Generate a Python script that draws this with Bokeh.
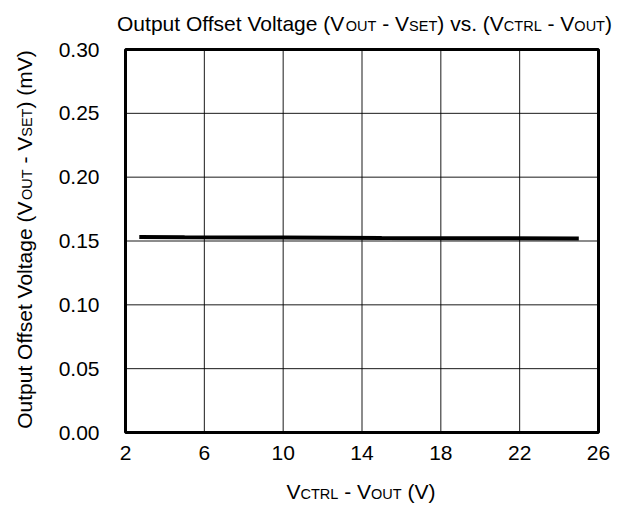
import math
from bokeh.plotting import figure
from bokeh.models import Range1d, FixedTicker, NumeralTickFormatter, Label
from bokeh.embed import file_html
from bokeh.resources import INLINE

# ---- data ----
x_vals = [2.7, 5.0, 10.0, 15.0, 20.0, 25.0]
y_vals = [0.1531, 0.1529, 0.1527, 0.1524, 0.1522, 0.1520]
x_ticks = [2, 6, 10, 14, 18, 22, 26]
y_ticks = [0.0, 0.05, 0.10, 0.15, 0.20, 0.25, 0.30]
title_parts = [("Output Offset Voltage (V", False), ("OUT", True), (" - V", False), ("SET", True),
               (") vs. (V", False), ("CTRL", True), (" - V", False), ("OUT", True), (")", False)]
xlabel_parts = [("V", False), ("CTRL", True), (" - V", False), ("OUT", True), (" (V)", False)]
ylabel_parts = [("Output Offset Voltage (V", False), ("OUT", True), (" - V", False), ("SET", True), (") (mV)", False)]

FONT = "Liberation Sans"
FS = 21
SFS = 14.5
NBSP = "\u00a0"

W, H = 619, 507
# pixel box of the plotting area inside the canvas
L, R, T, B = 125, 598, 49, 432
X0, X1 = x_ticks[0], x_ticks[-1]
Y0, Y1 = y_ticks[0], y_ticks[-1]
sx = (X1 - X0) / (R - L)
sy = (Y1 - Y0) / (B - T)

p = figure(width=W, height=H, output_backend="svg", toolbar_location=None,
           x_range=Range1d(X0 - L * sx, X1 + (W - R) * sx),
           y_range=Range1d(Y0 - (H - B) * sy, Y1 + T * sy),
           min_border=0)
p.title.visible = False
p.background_fill_color = "white"
p.border_fill_color = "white"
p.outline_line_color = None
p.grid.visible = False

# grid lines and frame drawn through the data scales
p.segment(x0=x_ticks, y0=[Y0] * len(x_ticks), x1=x_ticks, y1=[Y1] * len(x_ticks),
          line_color="black", line_width=1, line_alpha=0.9)
p.segment(x0=[X0] * len(y_ticks), y0=y_ticks, x1=[X1] * len(y_ticks), y1=y_ticks,
          line_color="black", line_width=1, line_alpha=0.9)
p.quad(left=[X0], right=[X1], bottom=[Y0], top=[Y1], fill_color=None,
       line_color="black", line_width=3)

p.line(x_vals, y_vals, line_color="black", line_width=4)

# axes placed at the plotting box edges
xa, ya = p.xaxis[0], p.yaxis[0]
xa.fixed_location = Y0
ya.fixed_location = X0
xa.bounds = (X0, X1)
ya.bounds = (Y0, Y1)
for ax in (xa, ya):
    ax.axis_line_color = None
    ax.major_tick_line_color = None
    ax.minor_tick_line_color = None
    ax.major_label_text_font = FONT
    ax.major_label_text_font_size = f"{FS}px"
    ax.major_label_text_color = "black"
xa.ticker = FixedTicker(ticks=x_ticks)
ya.ticker = FixedTicker(ticks=y_ticks)
ya.formatter = NumeralTickFormatter(format="0.00")
xa.major_label_standoff = 7
ya.major_label_standoff = 20

# ---- rich text (subscripts) in canvas pixels ----
WID = {'O': 778, 'u': 556, 't': 278, 'p': 556, ' ': 278, 'f': 278, 's': 500, 'e': 556, 'V': 667,
       'o': 556, 'l': 222, 'a': 556, 'g': 556, '(': 333, ')': 333, '-': 333, 'v': 500, '.': 278,
       'm': 833, 'C': 722, 'T': 611, 'R': 722, 'L': 556, 'U': 722, 'S': 667, 'E': 667}


def tw(s, size):
    return sum(WID.get(c, 556) for c in s) * size / 1000.0


def total(parts):
    return sum(tw(s, SFS if sub else FS) for s, sub in parts)


def mk(x, y, s, size, angle=0.0):
    return Label(x=x, y=y, x_units="canvas", y_units="canvas", text=s.replace(" ", NBSP),
                 text_font=FONT, text_font_size=f"{size}px", text_color="black",
                 text_align="left", text_baseline="alphabetic", angle=angle)


def hlabel(parts, cx, base_y, sub_drop=2):
    x = cx - total(parts) / 2
    for s, sub in parts:
        size = SFS if sub else FS
        by = base_y + (sub_drop if sub else 0)
        p.add_layout(mk(x, by, s, size))
        x += tw(s, size)


def vlabel(parts, cy, base_x, sub_drop=2):
    y = cy + total(parts) / 2
    for s, sub in parts:
        size = SFS if sub else FS
        bx = base_x + (sub_drop if sub else 0)
        p.add_layout(mk(bx, y, s, size, angle=math.pi / 2))
        y -= tw(s, size)


hlabel(title_parts, 364, 23)
hlabel(xlabel_parts, 360.5, 491)
vlabel(ylabel_parts, 239, 24)

open("out.html", "w").write(file_html(p, INLINE))
